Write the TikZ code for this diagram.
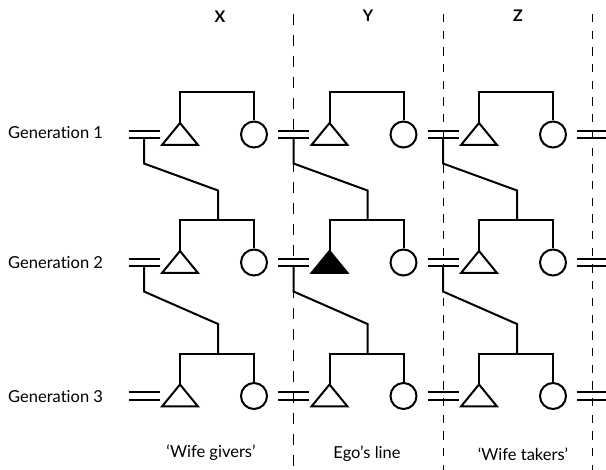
\documentclass[tikz,border=0pt]{standalone}
\usepackage{fontspec}
\setmainfont{Lato}[Ligatures=NoCommon]
\usetikzlibrary{calc}
\tikzset{
  kin/.style={line width=2pt, line join=miter},
  female/.style={circle, draw, line width=2pt, minimum size=26pt, inner sep=0pt},
  divider/.style={line width=0.9pt},
  lbl/.style={font=\fontsize{16.5}{19}\selectfont, inner sep=0pt},
  head/.style={font=\fontsize{16}{19}\selectfont\bfseries, inner sep=0pt},
}
\begin{document}
\begin{tikzpicture}[x=1pt,y=-1pt]
\useasboundingbox (0,0) rectangle (606,470);
% dividers
\coordinate (d1t) at (293.5,14); \coordinate (d1b) at (293.5,470);
\coordinate (d2t) at (443,14);   \coordinate (d2b) at (443,470);
\coordinate (d3t) at (592.5,14); \coordinate (d3b) at (592.5,470);
\draw[divider, dash pattern=on 11pt off 10pt] (d1t) -- (d1b);
\draw[divider, dash pattern=on 8.3pt off 8.4pt] (d2t) -- (d2b);
\draw[divider, dash pattern=on 8.3pt off 8.4pt] (d3t) -- (d3b);
% headers
\node[head] (hx) at (220,17) {X};
\node[head] (hy) at (368,16) {Y};
\node[head] (hz) at (518,16) {Z};
% generation labels
\node[lbl, anchor=west] (g1) at (8,133) {Generation 1};
\node[lbl, anchor=west] (g2) at (8,263) {Generation 2};
\node[lbl, anchor=west] (g3) at (8,397) {Generation 3};
% bottom labels
\node[lbl] (lx) at (211,453) {‘Wife givers’};
\node[lbl] (ly) at (367,454) {Ego’s line};
\node[lbl] (lz) at (523,454) {‘Wife takers’};
% generations
\foreach \g/\L in {1/134.5, 2/262.5, 3/396}{
  \foreach \k in {0,1,2,3}{
    \coordinate (e-\k-\g) at (144+149.5*\k,\L);
    \draw[kin] ($(e-\k-\g)+(-15.5,-3.75)$) -- ($(e-\k-\g)+(15.5,-3.75)$);
    \draw[kin] ($(e-\k-\g)+(-15.5,3.75)$) -- ($(e-\k-\g)+(15.5,3.75)$);
  }
  \foreach \k in {0,1,2}{
    \coordinate (t-\k-\g) at (180+149.5*\k,\L-11.5);
    \node[female] (c-\k-\g) at (254+149.5*\k,\L) {};
    \coordinate (bl-\k-\g) at (180+149.5*\k,\L-42);
    \coordinate (br-\k-\g) at (254+149.5*\k,\L-42);
    \coordinate (bm-\k-\g) at (218+149.5*\k,\L-42);
    \draw[kin] (t-\k-\g) -- (bl-\k-\g) -- (br-\k-\g) -- (c-\k-\g.north);
  }
}
% triangles (men)
\foreach \g in {1,2,3}{
  \foreach \k in {0,1,2}{
    \ifnum\g=2 \ifnum\k=1
      \filldraw[kin] (t-\k-\g) -- ++(-18,22) -- ++(36,0) -- cycle;
    \else
      \draw[kin] (t-\k-\g) -- ++(-18,22) -- ++(36,0) -- cycle;
    \fi\else
      \draw[kin] (t-\k-\g) -- ++(-18,22) -- ++(36,0) -- cycle;
    \fi
  }
}
% descent lines from marriages to next generation
\foreach \g/\n in {1/2, 2/3}{
  \foreach \k in {0,1,2}{
    \draw[kin] ($(e-\k-\g)+(0,3.75)$) -- ($(e-\k-\g)+(0,29)$) -- ($(bm-\k-\n)+(0,-30)$) -- (bm-\k-\n);
  }
}
\end{tikzpicture}
\end{document}
